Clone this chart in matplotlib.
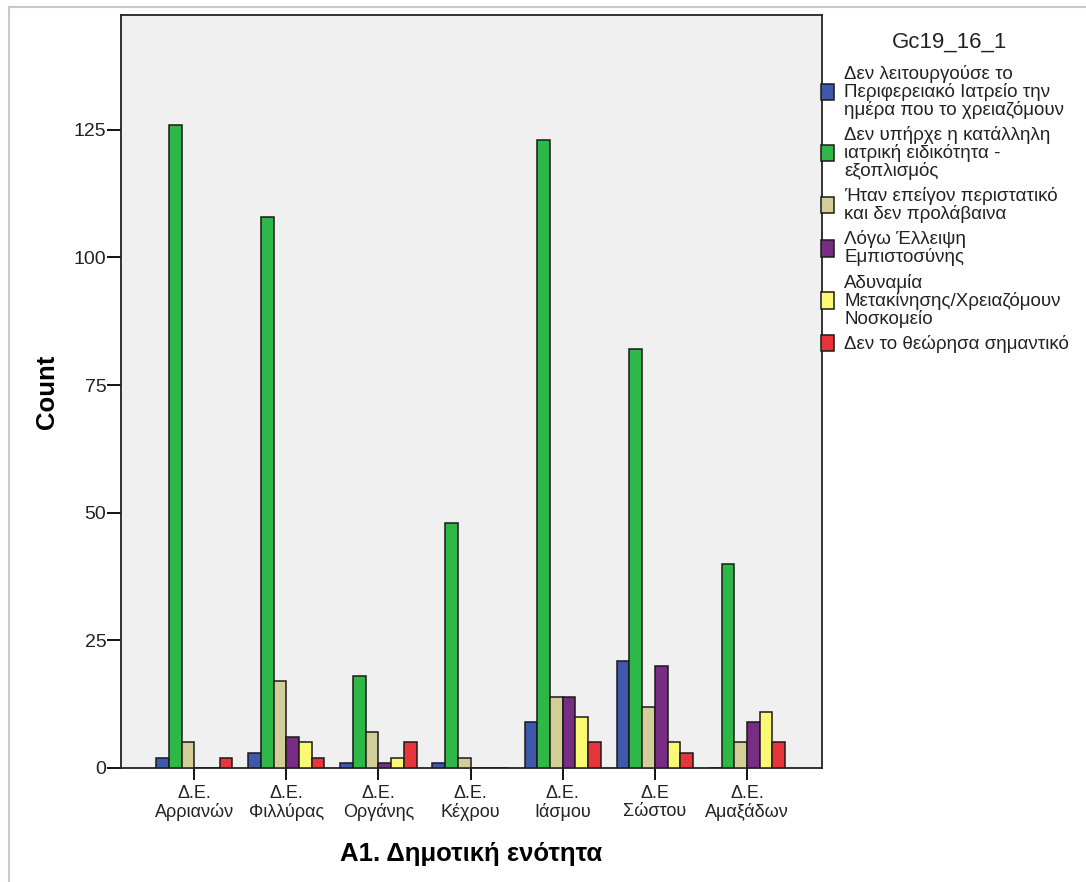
import matplotlib
matplotlib.use("Agg")
import matplotlib.pyplot as plt
import numpy as np
from matplotlib.lines import Line2D

plt.rcParams['font.family'] = ['Liberation Sans', 'DejaVu Sans']

categories = ["Δ.Ε.\nΑρριανών", "Δ.Ε.\nΦιλλύρας", "Δ.Ε.\nΟργάνης", "Δ.Ε.\nΚέχρου",
              "Δ.Ε.\nΙάσμου", "Δ.Ε\nΣώστου", "Δ.Ε.\nΑμαξάδων"]
legend_title = "Gc19_16_1"
series_names = [
    "Δεν λειτουργούσε το\nΠεριφερειακό Ιατρείο την\nημέρα που το χρειαζόμουν",
    "Δεν υπήρχε η κατάλληλη\nιατρική ειδικότητα -\nεξοπλισμός",
    "Ήταν επείγον περιστατικό\nκαι δεν προλάβαινα",
    "Λόγω Έλλειψη\nΕμπιστοσύνης",
    "Αδυναμία\nΜετακίνησης/Χρειαζόμουν\nΝοσκομείο",
    "Δεν το θεώρησα σημαντικό",
]
blue = [2, 3, 1, 1, 9, 21, 0]
green = [126, 108, 18, 48, 123, 82, 40]
beige = [5, 17, 7, 2, 14, 12, 5]
purple = [0, 6, 1, 0, 14, 20, 9]
yellow = [0, 5, 2, 0, 10, 5, 11]
red = [2, 2, 5, 0, 5, 3, 5]
series = [blue, green, beige, purple, yellow, red]
colors = ["#3E58AC", "#2EB848", "#D3CE97", "#782C84", "#FBF873", "#E8353B"]

W, H = 1086, 882
fig = plt.figure(figsize=(W / 100, H / 100), dpi=100)
ax = fig.add_axes([121/W, 1-768/H, 701/W, 753/H])
ax.set_facecolor("#F0F0F0")

x = np.arange(len(categories))
bw = 0.138
n = len(series)
for i, (vals, c) in enumerate(zip(series, colors)):
    offs = (i - (n - 1) / 2) * bw
    ax.bar(x + offs, vals, width=bw, color=c, edgecolor="#1a1a1a", linewidth=1.1, zorder=3)

ax.set_xlim(-0.795, 6.815)
ax.set_ylim(0, 147.5)
ax.set_yticks([0, 25, 50, 75, 100, 125])
ax.set_xticks(x)
ax.set_xticklabels(categories, fontsize=13, linespacing=1.05)
ax.tick_params(axis='y', labelsize=14, length=10, width=1.3, direction='out', pad=0.5,
               labelcolor="#222222")
ax.tick_params(axis='x', length=8.6, width=1.3, direction='out', pad=4, labelcolor="#222222")
for s in ax.spines.values():
    s.set_linewidth(1.3)
    s.set_color("#222222")

ax.set_ylabel("Count", fontsize=18.5, fontweight='bold', labelpad=11)
ax.set_xlabel("A1. Δημοτική ενότητα", fontsize=18.5, fontweight='bold', labelpad=15)

fig.text(950/W, 1-42/H, legend_title, fontsize=16, ha='center', va='center', color="#222222")

handles = [plt.Rectangle((0, 0), 1, 1, facecolor=c, edgecolor="#1a1a1a", linewidth=1.1) for c in colors]
leg = fig.legend(handles, series_names, loc='upper left', bbox_to_anchor=(821/W, 1-65/H),
                 fontsize=13.5, frameon=False,
                 handlelength=0.7, handleheight=0.95, handletextpad=0.55, labelspacing=0.38,
                 borderaxespad=0, borderpad=0)
for t in leg.get_texts():
    t.set_linespacing(1.0)
    t.set_color("#222222")

# figure frame lines (top and left)
fig.add_artist(Line2D([9/W, 1], [1-7/H, 1-7/H], color="#C8C8C8", linewidth=1.5))
fig.add_artist(Line2D([9/W, 9/W], [0, 1-7/H], color="#C8C8C8", linewidth=1.5))

fig.savefig("out.png", dpi=100, facecolor="white")
